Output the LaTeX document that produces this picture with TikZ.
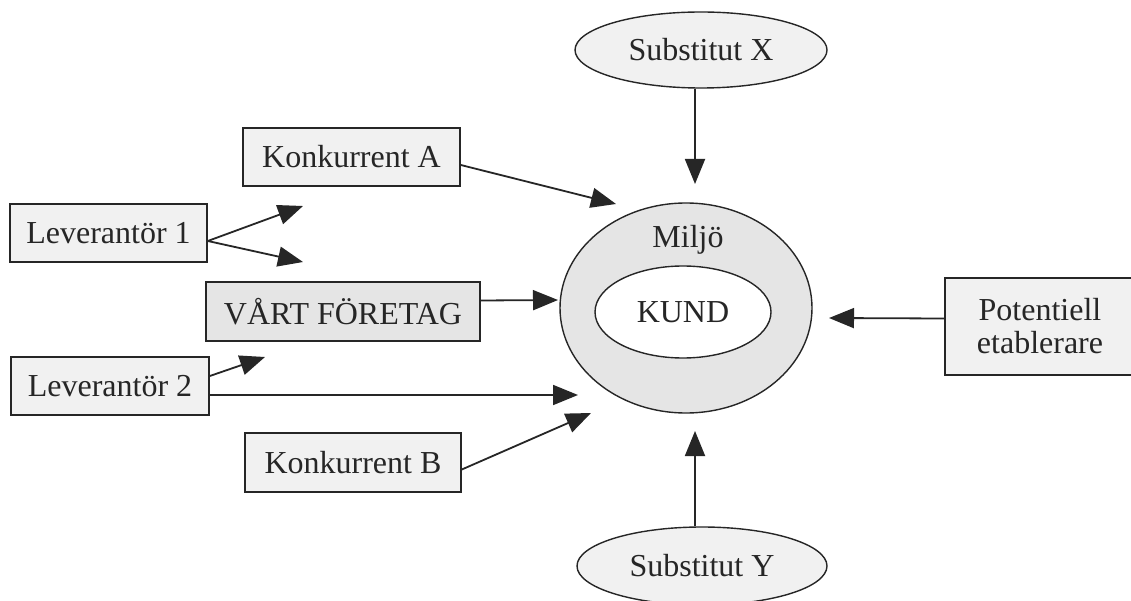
\documentclass[tikz,border=0pt]{standalone}
\usepackage{fontspec}
\setmainfont{Liberation Serif}
\usetikzlibrary{arrows.meta,shapes.geometric}
\definecolor{ink}{HTML}{262626}
\definecolor{paper}{HTML}{F1F1F1}
\definecolor{shade}{HTML}{E5E5E5}
\begin{document}
\begin{tikzpicture}[x=1pt,y=-1pt,
  every node/.style={font=\fontsize{32}{36}\selectfont, text=ink},
  actor/.style={draw=ink, line width=1.6pt, fill=paper, rectangle, inner sep=0pt},
  oval/.style={draw=ink, line width=1.4pt, fill=paper, ellipse, inner sep=0pt},
  flow/.style={draw=ink, line width=1.8pt, -{Triangle[length=25pt,width=20pt]}}]
\clip (0,0) rectangle (1131,601);
\fill[white] (0,0) rectangle (1131,601);

% customer in its surroundings
\node[oval, fill=shade, minimum width=252pt, minimum height=210pt] (miljo) at (686,308) {};
\node[oval, fill=white, minimum width=176pt, minimum height=92pt] (kund) at (683,312) {KUND};
\node (miljotext) at (688,240) {Miljö};

% actors
\node[actor, minimum width=197pt, minimum height=58pt] (lev1) at (108.5,233) {Leverantör 1};
\node[actor, minimum width=217pt, minimum height=58pt] (konkA) at (351.5,157) {Konkurrent A};
\node[actor, fill=shade, minimum width=274pt, minimum height=59pt] (vart) at (343,311.5) {VÅRT FÖRETAG};
\node[actor, minimum width=198pt, minimum height=58pt] (lev2) at (110,386) {Leverantör 2};
\node[actor, minimum width=216pt, minimum height=59pt] (konkB) at (353,462.5) {Konkurrent B};
\node[actor, minimum width=190pt, minimum height=97pt, align=center,
      font=\fontsize{32}{33}\selectfont] (pot) at (1040,326.5) {Potentiell\\etablerare};
\node[oval, minimum width=252pt, minimum height=76pt] (subX) at (701,50) {Substitut X};
\node[oval, minimum width=250pt, minimum height=78pt] (subY) at (702,566) {Substitut Y};

% arrow tips
\coordinate (l1up) at (303,206);
\coordinate (l1down) at (303,262);
\coordinate (l2up) at (265,357);
\coordinate (tipA) at (616,204);
\coordinate (tipV) at (558,300);
\coordinate (tipL2) at (578,395);
\coordinate (tipB) at (591,413);
\coordinate (tipX) at (695,184);
\coordinate (tipY) at (695,431);
\coordinate (tipP) at (829,318);

% influences
\draw[flow] ([yshift=-8pt]lev1.east) -- (l1up);
\draw[flow] ([yshift=-8pt]lev1.east) -- (l1down);
\draw[flow] ([yshift=-8pt]konkA.east) -- (tipA);
\draw[flow] ([yshift=11pt]vart.east) -- (tipV);
\draw[flow] ([yshift=10pt]lev2.east) -- (l2up);
\draw[flow] ([yshift=-9pt]lev2.east) -- (tipL2);
\draw[flow] ([yshift=-7pt]konkB.east) -- (tipB);
\draw[flow] (tipX |- subX.south) -- (tipX);
\draw[flow] (tipY |- subY.north) -- (tipY);
\draw[flow] ([yshift=8pt]pot.west) -- (tipP);
\end{tikzpicture}
\end{document}
